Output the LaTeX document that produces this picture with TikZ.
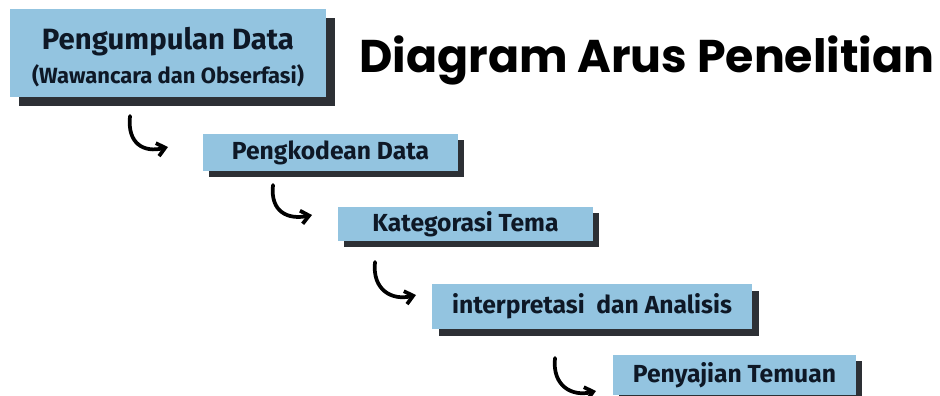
\documentclass[tikz,border=0pt]{standalone}
\usepackage{fontspec}
\setmainfont{Fira Sans}
\newfontfamily\titlefont{Poppins}
\usetikzlibrary{positioning,shadows,arrows.meta}
\definecolor{boxblue}{RGB}{147,196,224}
\definecolor{boxshade}{RGB}{45,48,53}
\definecolor{boxtext}{RGB}{14,24,38}

\begin{document}
\begin{tikzpicture}[x=0.75pt,y=-0.75pt,
	stage/.style={fill=boxblue,text=boxtext,inner sep=0pt,align=center,
		font=\bfseries\fontsize{18.5}{22}\selectfont,
		drop shadow={shadow xshift=#1,shadow yshift=-#1,opacity=1,fill=boxshade}},
	stage/.default=4.5pt,
	curl/.style={-{Straight Barb[length=6pt,width=10pt]},line width=2.8pt,line cap=round,black}]
	\useasboundingbox (0,0) rectangle (940,396);
	
	% title
	\node[inner sep=0pt,anchor=base west,font=\titlefont\bfseries\fontsize{34.4}{40}\selectfont] (title) at (359,72) {Diagram Arus Penelitian};
	
	% stages
	\node[stage=7pt,minimum width=237pt,minimum height=66pt] (collect) at (168,53) {{\fontsize{22}{26}\selectfont\rule{0pt}{22.5pt}Pengumpulan Data}\\[3.5pt]{\fontsize{16.5}{19}\selectfont(Wawancara dan Obserfasi)}};
	\node[stage,minimum width=191pt,minimum height=28pt] (code) at (330.5,152.5) {Pengkodean Data};
	\node[stage,minimum width=191pt,minimum height=25.5pt] (theme) at (465.5,224) {Kategorasi Tema};
	\node[stage=5pt,minimum width=240pt,minimum height=33.75pt] (interp) at (592,306.5) {interpretasi\ \ dan Analisis};
	\node[stage,minimum width=182pt,minimum height=30pt] (present) at (734.5,375) {Penyajian Temuan};
	
	% curved arrows
	\coordinate (s1) at (130,116); \coordinate (t1) at (168,147);
	\coordinate (s2) at (273,185); \coordinate (t2) at (312,215);
	\coordinate (s3) at (375,262); \coordinate (t3) at (416,295);
	\coordinate (s4) at (555,358); \coordinate (t4) at (596,391);
	\draw[curl] (s1) .. controls +(-3,28) and +(-24,6) .. (t1);
	\draw[curl] (s2) .. controls +(-3,27) and +(-24,5) .. (t2);
	\draw[curl] (s3) .. controls +(-3,28) and +(-24,6) .. (t3);
	\draw[curl] (s4) .. controls +(-3,28) and +(-24,6) .. (t4);
\end{tikzpicture}
\end{document}
